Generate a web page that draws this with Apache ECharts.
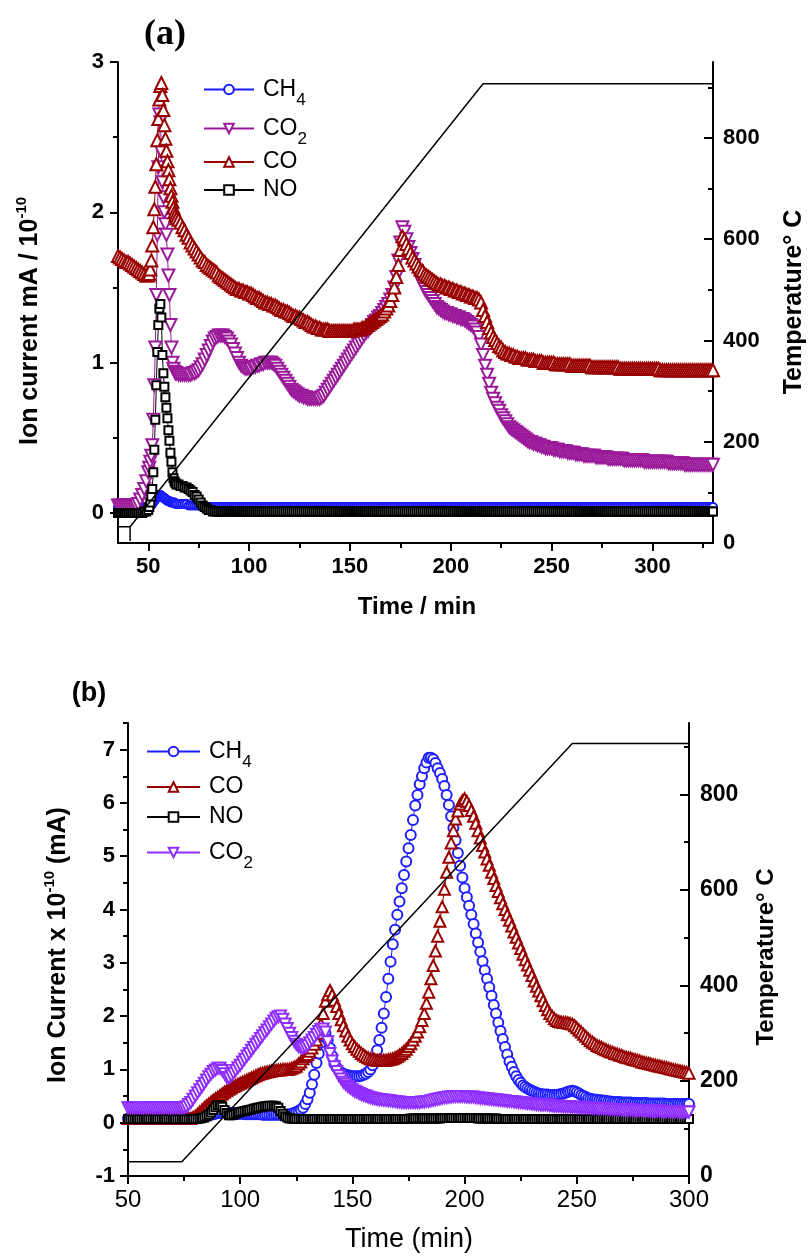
<!DOCTYPE html>
<html>
<head>
<meta charset="utf-8">
<script src="https://cdn.jsdelivr.net/npm/echarts@6/dist/echarts.min.js"></script>
<style>
  html, body { margin: 0; padding: 0; background: #fff; }
  #chart { width: 810px; height: 1257px; }
</style>
</head>
<body>
<div id="chart"></div>
<script>
// ---------- Panel (a): mass-spec ion currents vs time (min) ----------
const timeA = [35,36,37,38,39,40,41,42,43,44,
  45,46,47,48,49,
  50,50.5,51,51.5,52,52.5,53,53.5,54,54.5,
  55,55.5,56,56.5,57,57.5,58,58.5,59,59.5,
  60,60.5,61,61.5,62,62.5,63,63.5,64,
  65,66,67,68,69,70,71,72,73,74,
  75,76,77,78,79,80,81,82,83,84,
  85,86,87,88,89,90,91,92,93,94,
  95,96,97,98,99,100,101,102,103,104,
  105,106,107,108,109,110,111,112,113,114,
  115,116,117,118,119,120,121,122,123,124,
  125,126,127,128,129,130,131,132,133,134,
  135,136,137,138,139,140,141,142,143,144,
  145,146,147,148,149,150,151,152,153,154,
  155,156,157,158,159,160,161,162,163,164,
  165,166,167,168,169,170,171,172,173,174,
  175,176,177,178,179,180,181,182,183,184,
  185,186,187,188,189,190,191,192,193,194,
  195,196,197,198,199,200,201,202,203,204,
  205,206,207,208,209,210,211,212,213,214,
  215,216,217,218,219,220,221,222,223,224,
  225,226,227,228,229,230,231,232,233,234,
  235,236,237,238,239,240,241,242,243,244,
  245,246,247,248,249,250,251,252,253,254,
  255,256,257,258,259,260,261,262,263,264,
  265,266,267,268,269,270,271,272,273,274,
  275,276,277,278,279,280,281,282,283,284,
  285,286,287,288,289,290,291,292,293,294,
  295,296,297,298,299,300,301,302,303,304,
  305,306,307,308,309,310,311,312,313,314,
  315,316,317,318,319,320,321,322,323,324,
  325,326,327,328,329,330];

const ch4A = [
  /* 35 */ 0.04,0.04,0.04,0.04,0.04,0.04,0.04,0.04,0.04,0.04,
  /* 45 */ 0.04,0.04,0.04,0.04,0.04,
  /* 50 */ 0.04,0.04,0.05,0.05,0.06,0.07,0.08,0.09,0.10,0.11,
  /* 55 */ 0.12,0.12,0.12,0.11,0.11,0.10,0.10,0.09,0.09,0.08,
  /* 60 */ 0.08,0.08,0.07,0.07,0.07,0.07,0.07,0.06,0.06,
  /* 65 */ 0.06,0.06,0.06,0.06,0.06,0.05,0.05,0.05,0.05,0.05,
  /* 75 */ 0.05,0.05,0.04,0.04,0.04,0.04,0.04,0.04,0.04,0.04,
  /* 85 */ 0.04,0.04,0.04,0.04,0.04,0.04,0.04,0.04,0.04,0.04,
  /* 95 */ 0.04,0.04,0.04,0.04,0.04,0.04,0.04,0.04,0.04,0.04,
  /* 105 */ 0.04,0.04,0.04,0.04,0.04,0.04,0.04,0.04,0.04,0.04,
  /* 115 */ 0.04,0.04,0.04,0.04,0.04,0.04,0.04,0.04,0.04,0.04,
  /* 125 */ 0.04,0.04,0.04,0.04,0.04,0.04,0.04,0.04,0.04,0.04,
  /* 135 */ 0.04,0.04,0.04,0.04,0.04,0.04,0.04,0.04,0.04,0.04,
  /* 145 */ 0.04,0.04,0.04,0.04,0.04,0.04,0.04,0.04,0.04,0.04,
  /* 155 */ 0.04,0.04,0.04,0.04,0.04,0.04,0.04,0.04,0.04,0.04,
  /* 165 */ 0.04,0.04,0.04,0.04,0.04,0.04,0.04,0.04,0.04,0.04,
  /* 175 */ 0.04,0.04,0.04,0.04,0.04,0.04,0.04,0.04,0.04,0.04,
  /* 185 */ 0.04,0.04,0.04,0.04,0.04,0.04,0.04,0.04,0.04,0.04,
  /* 195 */ 0.04,0.04,0.04,0.04,0.04,0.04,0.04,0.04,0.04,0.04,
  /* 205 */ 0.04,0.04,0.04,0.04,0.04,0.04,0.04,0.04,0.04,0.04,
  /* 215 */ 0.04,0.04,0.04,0.04,0.04,0.04,0.04,0.04,0.04,0.04,
  /* 225 */ 0.04,0.04,0.04,0.04,0.04,0.04,0.04,0.04,0.04,0.04,
  /* 235 */ 0.04,0.04,0.04,0.04,0.04,0.04,0.04,0.04,0.04,0.04,
  /* 245 */ 0.04,0.04,0.04,0.04,0.04,0.04,0.04,0.04,0.04,0.04,
  /* 255 */ 0.04,0.04,0.04,0.04,0.04,0.04,0.04,0.04,0.04,0.04,
  /* 265 */ 0.04,0.04,0.04,0.04,0.04,0.04,0.04,0.04,0.04,0.04,
  /* 275 */ 0.04,0.04,0.04,0.04,0.04,0.04,0.04,0.04,0.04,0.04,
  /* 285 */ 0.04,0.04,0.04,0.04,0.04,0.04,0.04,0.04,0.04,0.04,
  /* 295 */ 0.04,0.04,0.04,0.04,0.04,0.04,0.04,0.04,0.04,0.04,
  /* 305 */ 0.04,0.04,0.04,0.04,0.04,0.04,0.04,0.04,0.04,0.04,
  /* 315 */ 0.04,0.04,0.04,0.04,0.04,0.04,0.04,0.04,0.04,0.04,
  /* 325 */ 0.04,0.04,0.04,0.04,0.04,0.04];

const co2A = [0.05,0.05,0.05,0.05,0.05,0.05,0.05,0.05,0.05,0.05,
  0.06,0.09,0.12,0.16,0.21,
  0.27,0.30,0.34,0.38,0.45,0.62,0.85,1.10,1.45,1.85,
  2.30,2.65,2.60,2.40,2.20,2.10,2.00,1.92,1.85,1.72,
  1.58,1.45,1.25,1.10,1.00,0.96,0.94,0.93,0.93,
  0.92,0.92,0.92,0.92,0.92,0.92,0.92,0.93,0.93,0.94,
  0.95,0.97,0.99,1.02,1.05,1.08,1.11,1.14,1.16,1.17,
  1.18,1.18,1.18,1.17,1.16,1.14,1.12,1.09,1.06,1.03,
  1.00,0.98,0.97,0.96,0.96,0.96,0.96,0.97,0.97,0.98,
  0.98,0.99,0.99,1.00,1.00,1.00,1.00,0.99,0.98,0.96,
  0.94,0.92,0.90,0.88,0.86,0.84,0.82,0.81,0.80,0.79,
  0.78,0.78,0.77,0.77,0.76,0.76,0.76,0.76,0.76,0.76,
  0.76,0.77,0.78,0.80,0.82,0.84,0.86,0.88,0.90,0.92,
  0.94,0.96,0.98,1.00,1.02,1.04,1.06,1.08,1.10,1.12,
  1.14,1.16,1.18,1.20,1.21,1.23,1.25,1.27,1.28,1.30,
  1.31,1.33,1.35,1.37,1.39,1.42,1.45,1.50,1.57,1.68,
  1.80,1.90,1.87,1.82,1.77,1.73,1.69,1.65,1.61,1.58,
  1.55,1.52,1.49,1.47,1.45,1.43,1.41,1.39,1.37,1.36,
  1.35,1.34,1.33,1.33,1.32,1.32,1.31,1.31,1.30,1.30,
  1.29,1.29,1.28,1.27,1.26,1.25,1.24,1.22,1.20,1.17,
  1.12,1.05,0.98,0.92,0.86,0.80,0.76,0.73,0.70,0.68,
  0.65,0.63,0.61,0.59,0.57,0.56,0.55,0.54,0.53,0.52,
  0.51,0.50,0.49,0.48,0.47,0.47,0.46,0.46,0.45,0.45,
  0.44,0.44,0.43,0.43,0.43,0.43,0.42,0.42,0.42,0.41,
  0.41,0.41,0.41,0.40,0.40,0.40,0.40,0.39,0.39,0.39,
  0.39,0.38,0.38,0.38,0.38,0.38,0.38,0.37,0.37,0.37,
  0.37,0.37,0.37,0.36,0.36,0.36,0.36,0.36,0.36,0.36,
  0.36,0.35,0.35,0.35,0.35,0.35,0.35,0.35,0.35,0.35,
  0.35,0.34,0.34,0.34,0.34,0.34,0.34,0.34,0.34,0.34,
  0.34,0.34,0.34,0.33,0.33,0.33,0.33,0.33,0.33,0.33,
  0.33,0.32,0.32,0.32,0.32,0.32,0.32,0.32,0.32,0.32,
  0.32,0.32,0.32,0.32,0.32,0.32];

const coA = [1.71,1.70,1.69,1.68,1.67,1.67,1.66,1.65,1.64,1.63,
  1.62,1.61,1.60,1.59,1.58,
  1.58,1.59,1.62,1.68,1.78,1.90,2.02,2.17,2.32,2.48,
  2.62,2.75,2.84,2.86,2.78,2.68,2.58,2.49,2.41,2.34,
  2.28,2.22,2.16,2.11,2.07,2.03,2.00,1.98,1.96,
  1.95,1.93,1.90,1.88,1.85,1.83,1.80,1.78,1.76,1.74,
  1.72,1.70,1.68,1.67,1.65,1.64,1.63,1.62,1.61,1.60,
  1.58,1.57,1.56,1.55,1.54,1.53,1.52,1.51,1.50,1.49,
  1.49,1.48,1.48,1.47,1.47,1.46,1.46,1.45,1.44,1.43,
  1.43,1.42,1.41,1.40,1.40,1.39,1.39,1.38,1.38,1.37,
  1.36,1.35,1.35,1.34,1.34,1.33,1.32,1.31,1.31,1.30,
  1.30,1.29,1.28,1.27,1.27,1.26,1.25,1.24,1.24,1.23,
  1.23,1.22,1.22,1.22,1.22,1.21,1.21,1.21,1.21,1.21,
  1.21,1.21,1.21,1.21,1.21,1.21,1.21,1.22,1.22,1.22,
  1.22,1.23,1.23,1.24,1.25,1.26,1.27,1.28,1.29,1.30,
  1.31,1.32,1.34,1.36,1.38,1.41,1.45,1.50,1.57,1.65,
  1.75,1.84,1.82,1.79,1.76,1.73,1.70,1.68,1.66,1.64,
  1.62,1.61,1.59,1.58,1.57,1.56,1.55,1.54,1.53,1.52,
  1.52,1.51,1.51,1.50,1.50,1.49,1.49,1.48,1.48,1.47,
  1.47,1.46,1.46,1.45,1.45,1.44,1.44,1.43,1.43,1.42,
  1.40,1.35,1.31,1.27,1.23,1.20,1.17,1.15,1.13,1.11,
  1.10,1.08,1.07,1.06,1.06,1.05,1.05,1.04,1.04,1.03,
  1.03,1.03,1.03,1.02,1.02,1.02,1.02,1.01,1.01,1.01,
  1.01,1.00,1.00,1.00,1.00,1.00,1.00,0.99,0.99,0.99,
  0.99,0.99,0.99,0.99,0.99,0.98,0.98,0.98,0.98,0.98,
  0.98,0.98,0.98,0.98,0.98,0.97,0.97,0.97,0.97,0.97,
  0.97,0.97,0.97,0.97,0.97,0.97,0.97,0.97,0.97,0.96,
  0.96,0.96,0.96,0.96,0.96,0.96,0.96,0.96,0.96,0.96,
  0.96,0.96,0.96,0.96,0.96,0.96,0.96,0.96,0.96,0.95,
  0.95,0.95,0.95,0.95,0.95,0.95,0.95,0.95,0.95,0.95,
  0.95,0.95,0.95,0.95,0.95,0.95,0.95,0.95,0.95,0.95,
  0.95,0.95,0.95,0.95,0.95,0.95];

const noA = [
  /* 35 */ 0.00,0.00,0.00,0.00,0.00,0.00,0.00,0.00,0.00,0.00,
  /* 45 */ 0.00,0.00,0.00,0.01,0.01,
  /* 50 */ 0.02,0.04,0.07,0.11,0.16,0.27,0.42,0.62,0.85,1.07,
  /* 55 */ 1.25,1.36,1.39,1.30,1.05,0.93,0.84,0.77,0.70,0.63,
  /* 60 */ 0.55,0.48,0.40,0.34,0.27,0.23,0.21,0.20,0.19,
  /* 65 */ 0.19,0.18,0.18,0.17,0.17,0.16,0.15,0.14,0.12,0.11,
  /* 75 */ 0.09,0.07,0.05,0.04,0.03,0.02,0.02,0.01,0.01,0.01,
  /* 85 */ 0.01,0.01,0.01,0.01,0.01,0.01,0.01,0.01,0.01,0.01,
  /* 95 */ 0.01,0.01,0.01,0.01,0.01,0.01,0.01,0.01,0.01,0.01,
  /* 105 */ 0.01,0.01,0.01,0.01,0.01,0.01,0.01,0.01,0.01,0.01,
  /* 115 */ 0.01,0.01,0.01,0.01,0.01,0.01,0.01,0.01,0.01,0.01,
  /* 125 */ 0.01,0.01,0.01,0.01,0.01,0.01,0.01,0.01,0.01,0.01,
  /* 135 */ 0.01,0.01,0.01,0.01,0.01,0.01,0.01,0.01,0.01,0.01,
  /* 145 */ 0.01,0.01,0.01,0.01,0.01,0.01,0.01,0.01,0.01,0.01,
  /* 155 */ 0.01,0.01,0.01,0.01,0.01,0.01,0.01,0.01,0.01,0.01,
  /* 165 */ 0.01,0.01,0.01,0.01,0.01,0.01,0.01,0.01,0.01,0.01,
  /* 175 */ 0.01,0.01,0.01,0.01,0.01,0.01,0.01,0.01,0.01,0.01,
  /* 185 */ 0.01,0.01,0.01,0.01,0.01,0.01,0.01,0.01,0.01,0.01,
  /* 195 */ 0.01,0.01,0.01,0.01,0.01,0.01,0.01,0.01,0.01,0.01,
  /* 205 */ 0.01,0.01,0.01,0.01,0.01,0.01,0.01,0.01,0.01,0.01,
  /* 215 */ 0.01,0.01,0.01,0.01,0.01,0.01,0.01,0.01,0.01,0.01,
  /* 225 */ 0.01,0.01,0.01,0.01,0.01,0.01,0.01,0.01,0.01,0.01,
  /* 235 */ 0.01,0.01,0.01,0.01,0.01,0.01,0.01,0.01,0.01,0.01,
  /* 245 */ 0.01,0.01,0.01,0.01,0.01,0.01,0.01,0.01,0.01,0.01,
  /* 255 */ 0.01,0.01,0.01,0.01,0.01,0.01,0.01,0.01,0.01,0.01,
  /* 265 */ 0.01,0.01,0.01,0.01,0.01,0.01,0.01,0.01,0.01,0.01,
  /* 275 */ 0.01,0.01,0.01,0.01,0.01,0.01,0.01,0.01,0.01,0.01,
  /* 285 */ 0.01,0.01,0.01,0.01,0.01,0.01,0.01,0.01,0.01,0.01,
  /* 295 */ 0.01,0.01,0.01,0.01,0.01,0.01,0.01,0.01,0.01,0.01,
  /* 305 */ 0.01,0.01,0.01,0.01,0.01,0.01,0.01,0.01,0.01,0.01,
  /* 315 */ 0.01,0.01,0.01,0.01,0.01,0.01,0.01,0.01,0.01,0.01,
  /* 325 */ 0.01,0.01,0.01,0.01,0.01,0.01];

// furnace temperature programme, panel (a)
const tempTimeA = [35, 41, 41, 41, 216, 330];
const tempA     = [32, 32, 4, 32, 907, 907];

// ---------- Panel (b) ----------
const timeB = [50,51,52,53,54,55,56,57,58,59,
  60,61,62,63,64,65,66,67,68,69,
  70,71,72,73,74,75,76,77,78,79,
  80,81,82,83,84,85,86,87,88,89,
  90,91,92,93,94,95,96,97,98,99,
  100,101,102,103,104,105,106,107,108,109,
  110,111,112,113,114,115,116,117,118,119,
  120,121,122,123,124,125,126,127,128,129,
  130,131,132,133,134,135,136,137,138,139,
  140,141,142,143,144,145,146,147,148,149,
  150,151,152,153,154,155,156,157,158,159,
  160,161,162,163,164,165,166,167,168,169,
  170,171,172,173,174,175,176,177,178,179,
  180,181,182,183,184,185,186,187,188,189,
  190,191,192,193,194,195,196,197,198,199,
  200,201,202,203,204,205,206,207,208,209,
  210,211,212,213,214,215,216,217,218,219,
  220,221,222,223,224,225,226,227,228,229,
  230,231,232,233,234,235,236,237,238,239,
  240,241,242,243,244,245,246,247,248,249,
  250,251,252,253,254,255,256,257,258,259,
  260,261,262,263,264,265,266,267,268,269,
  270,271,272,273,274,275,276,277,278,279,
  280,281,282,283,284,285,286,287,288,289,
  290,291,292,293,294,295,296,297,298,299,
  300];

const ch4B = [0.08,0.08,0.08,0.08,0.08,0.08,0.08,0.08,0.08,0.08,
  0.08,0.08,0.08,0.08,0.08,0.08,0.08,0.08,0.08,0.08,
  0.08,0.08,0.08,0.08,0.08,0.08,0.08,0.08,0.08,0.09,
  0.09,0.10,0.10,0.11,0.12,0.13,0.14,0.15,0.16,0.17,
  0.18,0.18,0.19,0.19,0.19,0.19,0.18,0.18,0.17,0.17,
  0.17,0.17,0.16,0.16,0.16,0.16,0.16,0.16,0.16,0.16,
  0.15,0.15,0.15,0.15,0.15,0.15,0.15,0.15,0.15,0.15,
  0.15,0.15,0.16,0.17,0.18,0.20,0.22,0.25,0.28,0.35,
  0.44,0.56,0.72,0.90,1.12,1.30,1.50,1.62,1.68,1.55,
  1.40,1.25,1.10,1.03,0.97,0.94,0.92,0.90,0.89,0.88,
  0.87,0.87,0.87,0.87,0.88,0.90,0.92,0.95,1.00,1.08,
  1.20,1.36,1.55,1.78,2.05,2.36,2.70,3.02,3.35,3.62,
  3.90,4.15,4.40,4.65,4.90,5.15,5.40,5.68,5.95,6.15,
  6.35,6.50,6.65,6.76,6.85,6.85,6.82,6.75,6.65,6.56,
  6.45,6.32,6.15,5.96,5.75,5.53,5.30,5.06,4.82,4.60,
  4.40,4.23,4.07,3.90,3.73,3.55,3.38,3.21,3.03,2.86,
  2.70,2.54,2.38,2.21,2.05,1.88,1.72,1.57,1.42,1.28,
  1.15,1.05,0.95,0.87,0.80,0.75,0.70,0.67,0.64,0.62,
  0.60,0.58,0.56,0.55,0.54,0.53,0.53,0.53,0.52,0.52,
  0.52,0.52,0.53,0.54,0.55,0.56,0.58,0.59,0.60,0.59,
  0.57,0.55,0.52,0.50,0.48,0.46,0.45,0.44,0.43,0.43,
  0.42,0.42,0.41,0.41,0.40,0.40,0.39,0.39,0.39,0.39,
  0.38,0.38,0.38,0.38,0.38,0.37,0.37,0.37,0.37,0.37,
  0.37,0.37,0.36,0.36,0.36,0.36,0.36,0.36,0.36,0.36,
  0.35,0.35,0.35,0.35,0.35,0.35,0.35,0.35,0.35,0.35,
  0.35];

const coB = [0.08,0.08,0.08,0.08,0.08,0.08,0.08,0.08,0.08,0.08,
  0.08,0.08,0.08,0.08,0.08,0.08,0.08,0.08,0.08,0.08,
  0.08,0.08,0.08,0.08,0.08,0.08,0.08,0.08,0.08,0.10,
  0.12,0.16,0.20,0.24,0.28,0.32,0.35,0.39,0.42,0.45,
  0.48,0.51,0.54,0.57,0.60,0.63,0.65,0.68,0.70,0.72,
  0.74,0.76,0.78,0.80,0.82,0.84,0.86,0.88,0.90,0.92,
  0.93,0.94,0.95,0.96,0.97,0.98,0.98,0.99,0.99,1.00,
  1.00,1.00,1.01,1.02,1.04,1.06,1.10,1.14,1.20,1.24,
  1.28,1.34,1.40,1.47,1.55,1.68,1.85,2.05,2.28,2.40,
  2.48,2.40,2.30,2.18,2.05,1.93,1.82,1.72,1.62,1.55,
  1.48,1.43,1.38,1.34,1.30,1.27,1.24,1.22,1.20,1.19,
  1.18,1.17,1.17,1.17,1.17,1.17,1.18,1.19,1.20,1.22,
  1.24,1.27,1.30,1.34,1.38,1.43,1.48,1.55,1.62,1.70,
  1.80,1.92,2.05,2.24,2.45,2.70,2.95,3.22,3.50,3.78,
  4.05,4.38,4.70,4.98,5.25,5.48,5.70,5.85,5.98,6.04,
  6.08,6.03,5.95,5.86,5.75,5.62,5.48,5.34,5.20,5.08,
  4.95,4.83,4.70,4.58,4.45,4.34,4.22,4.11,4.00,3.90,
  3.80,3.69,3.58,3.48,3.37,3.27,3.16,3.06,2.96,2.86,
  2.76,2.66,2.56,2.47,2.38,2.29,2.20,2.12,2.05,2.00,
  1.95,1.92,1.90,1.89,1.88,1.88,1.87,1.86,1.85,1.82,
  1.78,1.74,1.70,1.66,1.62,1.58,1.54,1.51,1.48,1.45,
  1.43,1.41,1.39,1.37,1.35,1.33,1.32,1.30,1.29,1.27,
  1.26,1.24,1.23,1.22,1.21,1.19,1.18,1.17,1.16,1.14,
  1.13,1.12,1.11,1.10,1.09,1.08,1.07,1.06,1.05,1.04,
  1.03,1.02,1.01,1.00,0.99,0.98,0.97,0.96,0.95,0.94,
  0.93];

const noB = [0.07,0.07,0.07,0.07,0.07,0.07,0.07,0.07,0.07,0.07,
  0.07,0.07,0.07,0.07,0.07,0.07,0.07,0.07,0.07,0.07,
  0.07,0.07,0.07,0.07,0.07,0.07,0.07,0.07,0.07,0.07,
  0.07,0.07,0.08,0.09,0.10,0.12,0.15,0.19,0.24,0.29,
  0.33,0.33,0.30,0.24,0.18,0.14,0.14,0.15,0.17,0.19,
  0.20,0.21,0.22,0.23,0.24,0.25,0.26,0.27,0.28,0.29,
  0.30,0.31,0.31,0.32,0.32,0.32,0.31,0.28,0.22,0.17,
  0.12,0.10,0.08,0.08,0.07,0.07,0.07,0.07,0.07,0.07,
  0.07,0.07,0.07,0.07,0.07,0.07,0.07,0.07,0.07,0.07,
  0.07,0.07,0.07,0.07,0.07,0.07,0.07,0.07,0.07,0.07,
  0.07,0.07,0.07,0.07,0.07,0.07,0.07,0.07,0.07,0.07,
  0.07,0.07,0.07,0.07,0.07,0.07,0.07,0.07,0.07,0.07,
  0.07,0.07,0.07,0.07,0.07,0.07,0.08,0.08,0.08,0.08,
  0.08,0.08,0.08,0.08,0.08,0.08,0.08,0.08,0.08,0.08,
  0.09,0.09,0.09,0.09,0.09,0.09,0.09,0.09,0.09,0.09,
  0.09,0.09,0.09,0.09,0.09,0.09,0.08,0.08,0.08,0.08,
  0.08,0.08,0.08,0.08,0.08,0.07,0.07,0.07,0.07,0.07,
  0.07,0.07,0.07,0.07,0.07,0.07,0.07,0.07,0.07,0.07,
  0.07,0.07,0.07,0.07,0.07,0.07,0.07,0.07,0.07,0.07,
  0.07,0.07,0.07,0.07,0.07,0.07,0.07,0.07,0.07,0.07,
  0.07,0.07,0.07,0.07,0.07,0.07,0.07,0.07,0.07,0.07,
  0.07,0.07,0.07,0.07,0.07,0.07,0.07,0.07,0.07,0.07,
  0.07,0.07,0.07,0.07,0.07,0.07,0.07,0.07,0.07,0.07,
  0.07,0.07,0.07,0.07,0.07,0.07,0.07,0.07,0.07,0.07,
  0.07,0.07,0.07,0.07,0.07,0.07,0.07,0.07,0.07,0.07,
  0.07];

const co2B = [0.28,0.28,0.28,0.28,0.28,0.28,0.28,0.28,0.28,0.28,
  0.28,0.28,0.28,0.28,0.28,0.28,0.28,0.28,0.28,0.28,
  0.28,0.28,0.28,0.28,0.28,0.28,0.30,0.34,0.38,0.44,
  0.50,0.56,0.62,0.68,0.74,0.80,0.86,0.91,0.96,0.99,
  1.02,1.02,0.98,0.92,0.85,0.84,0.88,0.93,0.98,1.03,
  1.08,1.14,1.19,1.25,1.30,1.36,1.41,1.47,1.52,1.58,
  1.63,1.69,1.74,1.80,1.85,1.91,1.96,1.99,2.00,1.94,
  1.85,1.77,1.68,1.60,1.53,1.47,1.43,1.41,1.40,1.42,
  1.45,1.50,1.55,1.60,1.66,1.71,1.75,1.76,1.70,1.52,
  1.30,1.16,1.05,0.96,0.88,0.82,0.76,0.72,0.68,0.65,
  0.62,0.59,0.57,0.55,0.53,0.51,0.50,0.48,0.47,0.46,
  0.45,0.44,0.43,0.43,0.42,0.42,0.41,0.41,0.40,0.40,
  0.39,0.39,0.38,0.38,0.38,0.38,0.38,0.38,0.38,0.38,
  0.38,0.39,0.39,0.40,0.40,0.41,0.42,0.43,0.44,0.45,
  0.46,0.47,0.47,0.48,0.48,0.49,0.49,0.49,0.49,0.49,
  0.49,0.48,0.48,0.48,0.48,0.47,0.47,0.46,0.46,0.45,
  0.45,0.44,0.44,0.43,0.43,0.42,0.42,0.41,0.41,0.40,
  0.40,0.40,0.39,0.39,0.38,0.38,0.37,0.37,0.36,0.36,
  0.35,0.35,0.34,0.34,0.33,0.33,0.33,0.33,0.32,0.32,
  0.31,0.31,0.31,0.31,0.30,0.30,0.30,0.30,0.29,0.29,
  0.29,0.29,0.28,0.28,0.28,0.28,0.27,0.27,0.27,0.27,
  0.26,0.26,0.26,0.26,0.26,0.25,0.25,0.25,0.25,0.25,
  0.24,0.24,0.24,0.24,0.24,0.24,0.23,0.23,0.23,0.23,
  0.23,0.23,0.22,0.22,0.22,0.22,0.22,0.22,0.21,0.21,
  0.21,0.21,0.21,0.21,0.21,0.20,0.20,0.20,0.20,0.20,
  0.20];

const tempTimeB = [50, 74, 248, 300];
const tempB     = [30, 30, 907, 907];

// ---------- tick positions ----------
const xTicksA   = [50, 100, 150, 200, 250, 300];
const xMinorA   = [75, 125, 175, 225, 275, 325];
const yTicksA   = [0, 1, 2, 3];
const yMinorA   = [0.5, 1.5, 2.5];
const xTicksB   = [50, 100, 150, 200, 250, 300];
const xMinorB   = [75, 125, 175, 225, 275];
const yTicksB   = [-1, 0, 1, 2, 3, 4, 5, 6, 7];
const yMinorB   = [-0.5, 0.5, 1.5, 2.5, 3.5, 4.5, 5.5, 6.5, 7.5];
const tempTicks = [0, 200, 400, 600, 800];
const tempMinor = [100, 300, 500, 700, 900];

const FONT = '"Liberation Sans", Arial, Helvetica, sans-serif';
const AXIS_COLOR = '#000';

const LEGEND_LABEL = {
  'CH4 a': 'CH{sub|4}', 'CO2 a': 'CO{sub|2}', 'CO a': 'CO', 'NO a': 'NO',
  'CH4 b': 'CH{sub|4}', 'CO b': 'CO', 'NO b': 'NO', 'CO2 b': 'CO{sub|2}'
};

function pairs(ts, vs) { return ts.map((t, i) => [t, vs[i]]); }

function gas(name, ts, vs, color, symbol, size, rotate, xi, yi) {
  return {
    type: 'line', name, xAxisIndex: xi, yAxisIndex: yi,
    data: pairs(ts, vs),
    symbol, symbolSize: size, symbolRotate: rotate, showAllSymbol: true,
    lineStyle: { color, width: 1 },
    itemStyle: { color, borderWidth: 1 },
    emphasis: { disabled: true }, silent: true, z: 2
  };
}

function temperature(ts, vs, xi, yi) {
  return {
    type: 'line', name: 'T', xAxisIndex: xi, yAxisIndex: yi,
    data: pairs(ts, vs), symbol: 'none', showSymbol: false,
    lineStyle: { color: '#000', width: 1.5 },
    emphasis: { disabled: true }, silent: true, z: 4
  };
}

function mainAxis(extra, ticks, tickLen, inside, label) {
  return Object.assign({
    type: 'value', splitLine: { show: false },
    axisLine: { show: true, onZero: false, lineStyle: { color: AXIS_COLOR, width: 2 } },
    axisTick: { show: true, inside, length: tickLen, customValues: ticks,
                lineStyle: { color: AXIS_COLOR, width: 2 } },
    axisLabel: Object.assign({ customValues: ticks, color: '#000', fontFamily: FONT }, label)
  }, extra);
}

function minorAxis(extra, ticks, inside) {
  return Object.assign({
    type: 'value', splitLine: { show: false },
    axisLine: { show: false, onZero: false },
    axisTick: { show: true, inside, length: 5, customValues: ticks,
                lineStyle: { color: AXIS_COLOR, width: 2 } },
    axisLabel: { show: false }
  }, extra);
}

const legendText = {
  fontFamily: FONT, fontSize: 23, color: '#000', lineHeight: 28, padding: [0, 0, 0, 4],
  rich: { sub: { fontFamily: FONT, fontSize: 17, lineHeight: 17, color: '#000', padding: [22, 0, 0, 0] } }
};

function titleText(x, y, text, size, weight, rotate) {
  return {
    type: 'text', x, y, rotation: rotate ? Math.PI / 2 : 0, silent: true,
    style: {
      text, fill: '#000', fontFamily: FONT, fontSize: size, fontWeight: weight,
      align: 'center', verticalAlign: 'middle', textAlign: 'center', textVerticalAlign: 'middle',
      lineHeight: 30,
      rich: { sup: { fontFamily: FONT, fontSize: 15, fontWeight: weight, lineHeight: 15,
                     fill: '#000', color: '#000', padding: [0, 0, 16, 0] } }
    }
  };
}

const chart = echarts.init(document.getElementById('chart'), null, { renderer: 'canvas' });

chart.setOption({
  backgroundColor: '#fff',
  animation: false,
  grid: [
    { left: 118, top: 62, width: 595, height: 481 },
    { left: 128, top: 723, width: 561, height: 453 }
  ],
  xAxis: [
    mainAxis({ gridIndex: 0, min: 35, max: 330, position: 'bottom' }, xTicksA, 8, false,
             { fontSize: 22, fontWeight: 'bold', margin: 13 }),
    minorAxis({ gridIndex: 0, min: 35, max: 330, position: 'bottom' }, xMinorA, false),
    mainAxis({ gridIndex: 1, min: 50, max: 300, position: 'bottom' }, xTicksB, 8, false,
             { fontSize: 24, fontWeight: 'normal', margin: 12 }),
    minorAxis({ gridIndex: 1, min: 50, max: 300, position: 'bottom' }, xMinorB, false)
  ],
  yAxis: [
    mainAxis({ gridIndex: 0, min: -0.2, max: 3, position: 'left' }, yTicksA, 8, false,
             { fontSize: 22, fontWeight: 'bold', margin: 14 }),
    minorAxis({ gridIndex: 0, min: -0.2, max: 3, position: 'left' }, yMinorA, false),
    mainAxis({ gridIndex: 0, min: 0, max: 950, position: 'right' }, tempTicks, 9, true,
             { fontSize: 22, fontWeight: 'bold', margin: 10 }),
    minorAxis({ gridIndex: 0, min: 0, max: 950, position: 'right' }, tempMinor, true),
    mainAxis({ gridIndex: 1, min: -1, max: 7.5, position: 'left' }, yTicksB, 8, false,
             { fontSize: 22, fontWeight: 'bold', margin: 13 }),
    minorAxis({ gridIndex: 1, min: -1, max: 7.5, position: 'left' }, yMinorB, false),
    mainAxis({ gridIndex: 1, min: 0, max: 950, position: 'right' }, tempTicks, 9, true,
             { fontSize: 23, fontWeight: 'bold', margin: 11 }),
    minorAxis({ gridIndex: 1, min: 0, max: 950, position: 'right' }, tempMinor, true)
  ],
  legend: [
    {
      data: ['CH4 a', 'CO2 a', 'CO a', 'NO a'], orient: 'vertical',
      left: 203, top: 70, padding: 0, itemGap: 0, itemWidth: 50, itemHeight: 12,
      selectedMode: false, formatter: n => LEGEND_LABEL[n], textStyle: legendText
    },
    {
      data: ['CH4 b', 'CO b', 'NO b', 'CO2 b'], orient: 'vertical',
      left: 146, top: 732, padding: 0, itemGap: 2, itemWidth: 53, itemHeight: 12,
      selectedMode: false, formatter: n => LEGEND_LABEL[n], textStyle: legendText
    }
  ],
  graphic: [
    { type: 'text', x: 165, y: 35, silent: true,
      style: { text: '(a)', fill: '#000', font: 'bold 36px "Liberation Serif", "Times New Roman", serif',
               align: 'center', verticalAlign: 'middle', textAlign: 'center', textVerticalAlign: 'middle' } },
    titleText(30, 321, 'Ion current mA / 10{sup|-10}', 25, 'bold', true),
    titleText(794, 302, 'Temperature° C', 25, 'bold', true),
    titleText(417, 607, 'Time / min', 24, 'bold', false),
    titleText(89, 694, '(b)', 27, 'bold', false),
    titleText(58, 945, 'Ion Current x 10{sup|-10} (mA)', 25, 'bold', true),
    titleText(766, 957, 'Temperature° C', 24, 'bold', true),
    titleText(409, 1240, 'Time (min)', 27, 'normal', false)
  ],
  series: [
    gas('CH4 a', timeA, ch4A, '#1a1aff', 'emptyCircle', 8, 0, 0, 0),
    gas('CO2 a', timeA, co2A, '#9a1a9a', 'emptyTriangle', 12, 180, 0, 0),
    gas('CO a', timeA, coA, '#990000', 'emptyTriangle', 12, 0, 0, 0),
    gas('NO a', timeA, noA, '#000000', 'emptyRect', 8, 0, 0, 0),
    temperature(tempTimeA, tempA, 0, 2),

    gas('CH4 b', timeB, ch4B, '#1f1fff', 'emptyCircle', 10, 0, 2, 4),
    gas('CO b', timeB, coB, '#990000', 'emptyTriangle', 11, 0, 2, 4),
    gas('NO b', timeB, noB, '#000000', 'emptyRect', 8, 0, 2, 4),
    gas('CO2 b', timeB, co2B, '#8f2fff', 'emptyTriangle', 11, 180, 2, 4),
    temperature(tempTimeB, tempB, 2, 6)
  ]
});
</script>
</body>
</html>
